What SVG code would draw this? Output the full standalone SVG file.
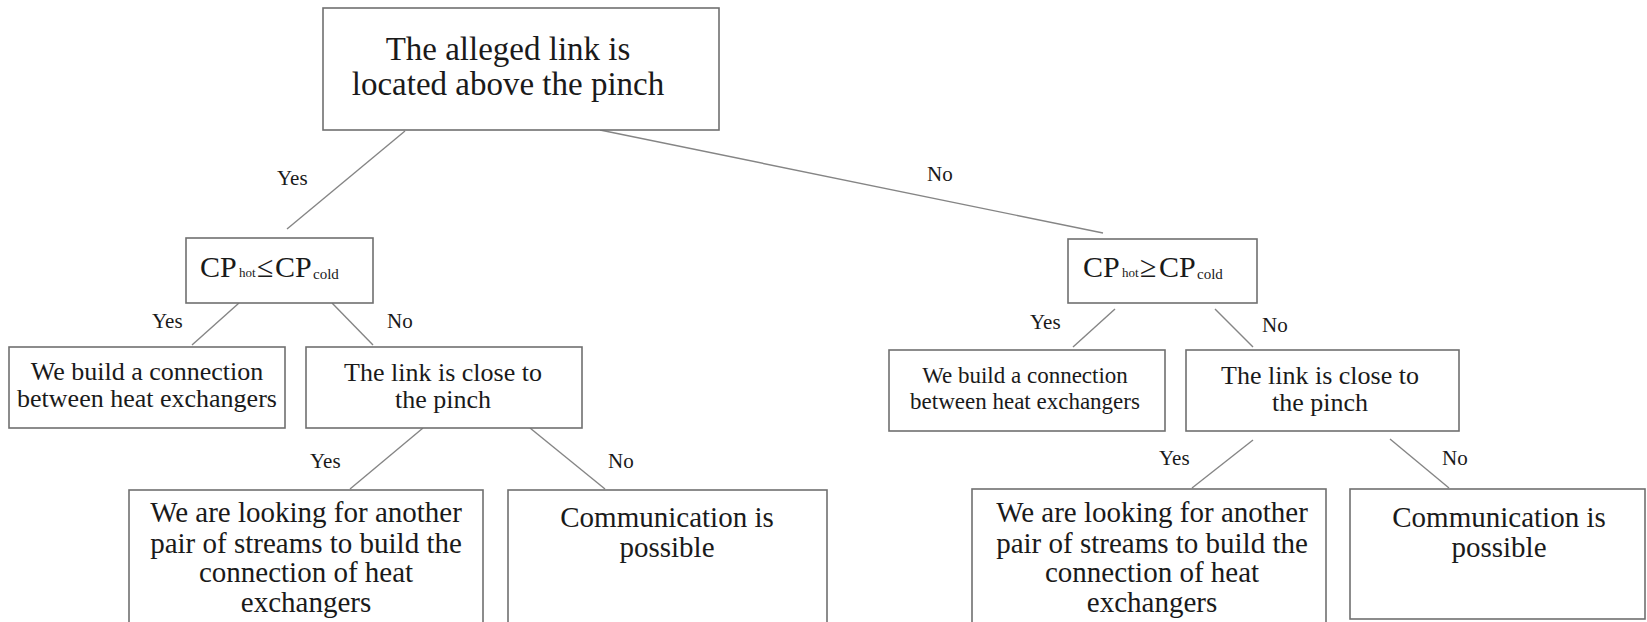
<svg xmlns="http://www.w3.org/2000/svg" width="1647" height="622" viewBox="0 0 1647 622">
<style>
.box{fill:#fff;stroke:#707070;stroke-width:1.6}
.ln{stroke:#858585;stroke-width:1.4;fill:none}
text{font-family:"Liberation Serif","Times New Roman",serif;fill:#1a1a1a}
.t33{font-size:33px;text-anchor:middle}
.t26{font-size:26px;text-anchor:middle}
.t23{font-size:23px;text-anchor:middle}
.t29{font-size:29px;text-anchor:middle}
.lbl{font-size:21px}
.cp{font-size:30px}
.sub{font-size:13px}
.subc{font-size:15px}
</style>
<rect width="1647" height="622" fill="#fff"/>
<g id="connectors">
<line class="ln" x1="405" y1="131" x2="287" y2="229"/>
<line class="ln" x1="600" y1="130" x2="1103" y2="233"/>
<line class="ln" x1="239" y1="303" x2="192" y2="345"/>
<line class="ln" x1="332" y1="303" x2="373" y2="345"/>
<line class="ln" x1="1115" y1="309" x2="1073" y2="347"/>
<line class="ln" x1="1215" y1="309" x2="1253" y2="347"/>
<line class="ln" x1="423" y1="428" x2="350" y2="489"/>
<line class="ln" x1="530" y1="428" x2="605" y2="489"/>
<line class="ln" x1="1253" y1="440" x2="1192" y2="488"/>
<line class="ln" x1="1390" y1="439" x2="1449" y2="488"/>
<text class="lbl" x="277" y="185">Yes</text>
<text class="lbl" x="927" y="181">No</text>
<text class="lbl" x="152" y="328">Yes</text>
<text class="lbl" x="387" y="328">No</text>
<text class="lbl" x="1030" y="329">Yes</text>
<text class="lbl" x="1262" y="332">No</text>
<text class="lbl" x="310" y="468">Yes</text>
<text class="lbl" x="608" y="468">No</text>
<text class="lbl" x="1159" y="465">Yes</text>
<text class="lbl" x="1442" y="465">No</text>
</g>
<g id="root">
<rect class="box" x="323" y="8" width="396" height="122"/>
<text class="t33" x="508" y="60">The alleged link is</text>
<text class="t33" x="508" y="95">located above the pinch</text>
</g>
<g id="cp-left">
<rect class="box" x="186" y="238" width="187" height="65"/>
<text class="cp" x="200" y="277">CP</text>
<text class="sub" x="239" y="277">hot</text>
<text class="cp" x="257" y="277">≤</text>
<text class="cp" x="275" y="277">CP</text>
<text class="subc" x="313" y="279">cold</text>
</g>
<g id="cp-right">
<rect class="box" x="1068" y="239" width="189" height="64"/>
<text class="cp" x="1083" y="277">CP</text>
<text class="sub" x="1122" y="277">hot</text>
<text class="cp" x="1140" y="277">≥</text>
<text class="cp" x="1159" y="277">CP</text>
<text class="subc" x="1197" y="279">cold</text>
</g>
<g id="build-left">
<rect class="box" x="9" y="347" width="276" height="81"/>
<text class="t26" x="147" y="380">We build a connection</text>
<text class="t26" x="147" y="407">between heat exchangers</text>
</g>
<g id="link-left">
<rect class="box" x="306" y="347" width="276" height="81"/>
<text class="t26" x="443" y="381">The link is close to</text>
<text class="t26" x="443" y="408">the pinch</text>
</g>
<g id="build-right">
<rect class="box" x="889" y="350" width="276" height="81"/>
<text class="t23" x="1025" y="383">We build a connection</text>
<text class="t23" x="1025" y="409">between heat exchangers</text>
</g>
<g id="link-right">
<rect class="box" x="1186" y="350" width="273" height="81"/>
<text class="t26" x="1320" y="384">The link is close to</text>
<text class="t26" x="1320" y="411">the pinch</text>
</g>
<g id="look-left">
<rect class="box" x="129" y="490" width="354" height="140"/>
<text class="t29" x="306" y="522">We are looking for another</text>
<text class="t29" x="306" y="553">pair of streams to build the</text>
<text class="t29" x="306" y="582">connection of heat</text>
<text class="t29" x="306" y="612">exchangers</text>
</g>
<g id="comm-left">
<rect class="box" x="508" y="490" width="319" height="140"/>
<text class="t29" x="667" y="527">Communication is</text>
<text class="t29" x="667" y="557">possible</text>
</g>
<g id="look-right">
<rect class="box" x="972" y="489" width="354" height="140"/>
<text class="t29" x="1152" y="522">We are looking for another</text>
<text class="t29" x="1152" y="553">pair of streams to build the</text>
<text class="t29" x="1152" y="582">connection of heat</text>
<text class="t29" x="1152" y="612">exchangers</text>
</g>
<g id="comm-right">
<rect class="box" x="1350" y="489" width="295" height="130"/>
<text class="t29" x="1499" y="527">Communication is</text>
<text class="t29" x="1499" y="557">possible</text>
</g>
</svg>
